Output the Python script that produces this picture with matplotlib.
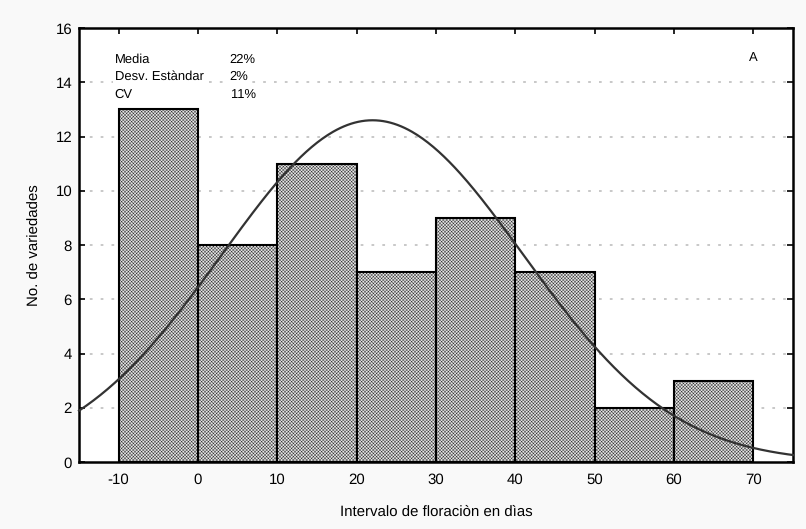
import numpy as np
import matplotlib
matplotlib.use("Agg")
import matplotlib.pyplot as plt

plt.rcParams['font.family'] = ['Liberation Sans', 'DejaVu Sans']
plt.rcParams['axes.unicode_minus'] = False
plt.rcParams['text.hinting'] = 'no_hinting'
plt.rcParams['text.hinting_factor'] = 1
plt.rcParams['hatch.color'] = '#a9a9a9'
plt.rcParams['hatch.linewidth'] = 0.25

bin_edges = [-10, 0, 10, 20, 30, 40, 50, 60, 70]
counts = [13, 8, 11, 7, 9, 7, 2, 3]
x_ticks = [-10, 0, 10, 20, 30, 40, 50, 60, 70]
y_ticks = [0, 2, 4, 6, 8, 10, 12, 14, 16]
fit_mean = 22.0
fit_sd = 19.0
stats_labels = ["Media", "Desv. Estàndar", "CV"]
stats_values = ["22%", "2%", "11%"]

fig = plt.figure(figsize=(8.06, 5.29), dpi=100, facecolor='#f9f9f9')
ax = fig.add_axes([79/806, 1-462/529, (793-79)/806, (462-28)/529])
ax.set_facecolor('white')

lefts = bin_edges[:-1]
widths = np.diff(bin_edges)
ax.bar(lefts, counts, width=widths, align='edge', facecolor='#e4e4e4',
       edgecolor='black', linewidth=1.5, hatch='xxxxxxxxxx', zorder=2)

n = sum(counts)
bw = widths[0]
xs = np.linspace(-15, 75, 400)
ys = n * bw * np.exp(-0.5 * ((xs - fit_mean) / fit_sd) ** 2) / (fit_sd * np.sqrt(2 * np.pi))
ax.plot(xs, ys, color='#333333', linewidth=1.6, zorder=3, clip_on=False)

for yv in y_ticks[1:-1]:
    ax.axhline(yv, color='#c4c4c4', linestyle=(0, (1.5, 4.5)), linewidth=1.3, zorder=0.5)

ax.set_xlim(-15, 75)
ax.set_ylim(0, 16)
ax.set_xticks(x_ticks)
ax.set_yticks(y_ticks)
ax.tick_params(direction='in', length=4, width=1.2, top=True, right=True,
               labelsize=10.5, pad=8)
ax.tick_params(axis='y', pad=5)
for s in ax.spines.values():
    s.set_linewidth(1.8)

ax.set_xlabel("Intervalo de floraciòn en dìas", fontsize=10.5, labelpad=13)
ax.set_ylabel("No. de variedades", fontsize=10.5, labelpad=10)

for i, (lab, val) in enumerate(zip(stats_labels, stats_values)):
    yy = 14.85 - i * 0.65
    ax.text(-10.5, yy, lab, fontsize=9.5, va='center', ha='left', zorder=5,
            bbox=dict(facecolor='white', edgecolor='none', pad=1.5))
    ax.text(4.0, yy, val, fontsize=9.5, va='center', ha='left', zorder=5,
            bbox=dict(facecolor='white', edgecolor='none', pad=1.5))

ax.text(70.0, 14.9, "A", fontsize=9.5, va='center', ha='center')

fig.savefig("out.png", dpi=100, facecolor=fig.get_facecolor())
